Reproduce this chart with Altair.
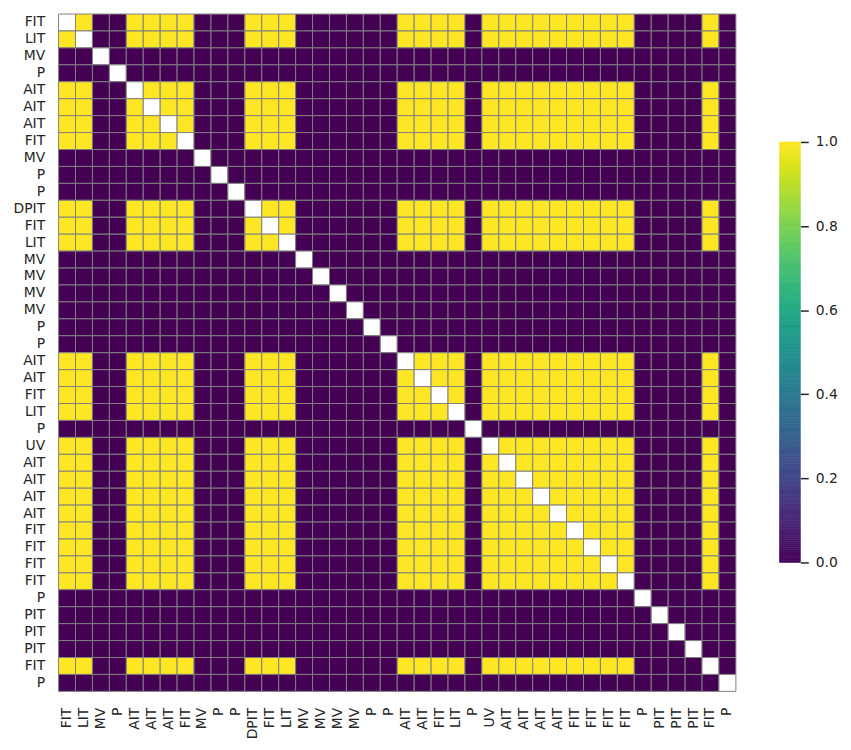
import altair as alt
import pandas as pd

labels = ["FIT", "LIT", "MV", "P", "AIT", "AIT", "AIT", "FIT", "MV", "P", "P", "DPIT",
          "FIT", "LIT", "MV", "MV", "MV", "MV", "P", "P", "AIT", "AIT", "FIT", "LIT",
          "P", "UV", "AIT", "AIT", "AIT", "AIT", "FIT", "FIT", "FIT", "FIT", "P",
          "PIT", "PIT", "PIT", "FIT", "P"]
# 1 where the row's label belongs to the "same" group as the column's
group_one = ["FIT", "LIT", "AIT", "DPIT", "UV"]
colorbar_ticks = [0.0, 0.2, 0.4, 0.6, 0.8, 1.0]

rows = []
n = len(labels)
for i in range(n):
    for j in range(n):
        same = 1.0 if (labels[i] in group_one and labels[j] in group_one) else 0.0
        rows.append({"row": i, "col": j, "v": same, "diag": i == j})
df = pd.DataFrame(rows)

steps = 200
cb = pd.DataFrame({"lo": [k / steps for k in range(steps)],
                   "hi": [(k + 1) / steps for k in range(steps)]})
cb["v"] = (cb["lo"] + cb["hi"]) / 2

label_arr = "[" + ",".join("'" + l + "'" for l in labels) + "]"
label_expr = label_arr + "[datum.value]"

FONT = "DejaVu Sans"
TXT = "#262626"
vscale = alt.Scale(scheme="viridis", domain=[0, 1])

heat = alt.Chart(df).mark_rect(stroke="#808080", strokeWidth=1).encode(
    x=alt.X("col:O", scale=alt.Scale(paddingInner=0, paddingOuter=0),
            axis=alt.Axis(title=None, labelExpr=label_expr, labelAngle=-90, ticks=False,
                          domain=False, labelPadding=16, labelFontSize=14, labelColor=TXT,
                          labelFont=FONT)),
    y=alt.Y("row:O", scale=alt.Scale(paddingInner=0, paddingOuter=0),
            axis=alt.Axis(title=None, labelExpr=label_expr, ticks=False, domain=False,
                          labelPadding=14, labelFontSize=14, labelColor=TXT, labelFont=FONT,
                          minExtent=45, maxExtent=45)),
    color=alt.condition(
        "datum.diag",
        alt.value("white"),
        alt.Color("v:Q", scale=vscale, legend=None),
    ),
).properties(width=683, height=683)

# colour bar: 1.0 at 129 px and 0.0 at 553 px below the top of a 683 px tall view
cbar = alt.Chart(cb).mark_rect(strokeWidth=0.6).encode(
    y=alt.Y("lo:Q", scale=alt.Scale(domain=[-130 / 424, 1 + 129 / 424], nice=False, zero=False),
            axis=alt.Axis(title=None, orient="right", values=colorbar_ticks, format=".1f",
                          domain=False, grid=False, ticks=True, tickSize=8, tickWidth=1.5,
                          tickColor=TXT, labelPadding=7, labelFontSize=14, labelColor=TXT,
                          labelFont=FONT)),
    y2="hi:Q",
    color=alt.Color("v:Q", scale=vscale, legend=None),
    stroke=alt.Stroke("v:Q", scale=vscale, legend=None),
).properties(width=21, height=683)

chart = alt.hconcat(heat, cbar, spacing=42).properties(
    padding={"top": 2, "left": 5, "right": 5, "bottom": 5},
).configure_view(stroke=None)

chart.save("out.html", embed_options={"renderer": "svg", "actions": False})
